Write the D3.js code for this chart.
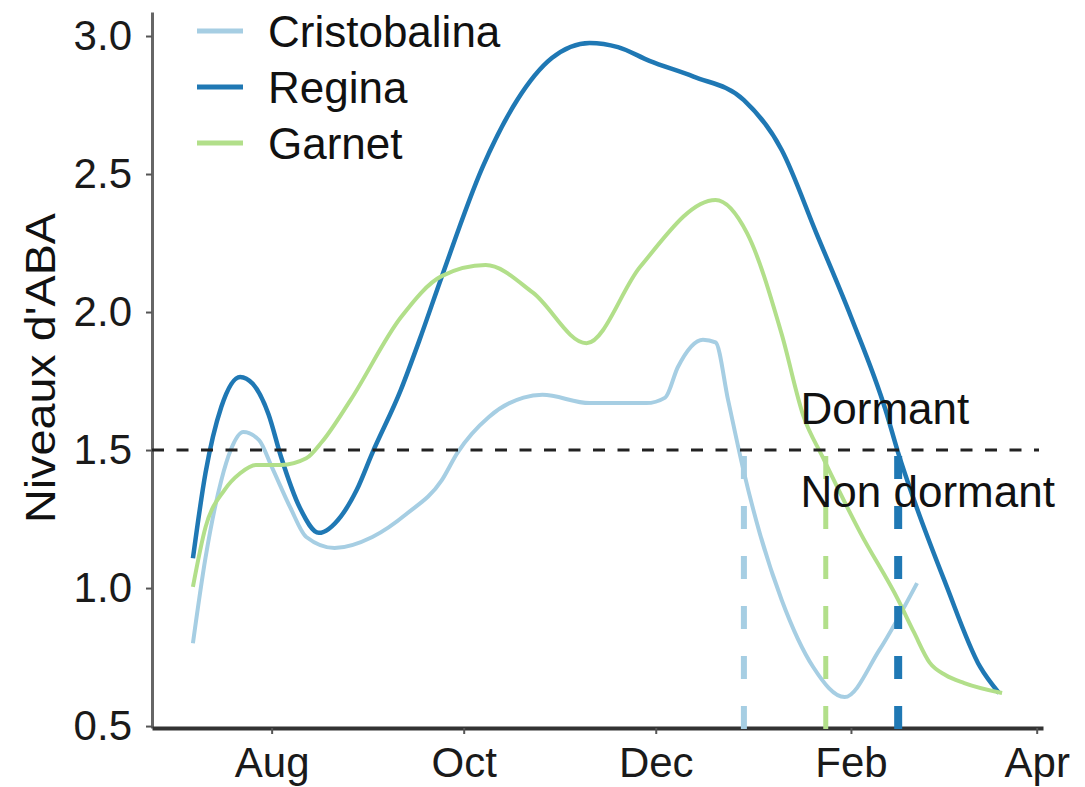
<!DOCTYPE html>
<html>
<head>
<meta charset="utf-8">
<script src="https://cdn.jsdelivr.net/npm/d3@7"></script>
<style>
  body { margin: 0; background: #fff; }
  svg { font-family: "Liberation Sans", Arial, sans-serif; }
  .axis text { font-size: 42px; fill: #1a1a1a; }
  .axis .tick line { stroke: #555; stroke-width: 2; }
  .legend text, .note { font-size: 44px; fill: #111; }
  .title { font-size: 42px; fill: #111; }
</style>
</head>
<body>
<div id="chart"></div>
<script>
/* global d3 */

// DATA
var varieties = ['Cristobalina', 'Regina', 'Garnet'];

var cristobalinaDates = ['2021-07-07', '2021-07-11', '2021-07-16', '2021-07-19', '2021-07-23', '2021-07-28',
  '2021-08-01', '2021-08-07', '2021-08-12', '2021-08-21', '2021-09-02', '2021-09-13', '2021-09-24',
  '2021-09-29', '2021-10-09', '2021-10-20', '2021-10-26', '2021-11-10', '2021-11-28', '2021-12-04',
  '2021-12-08', '2021-12-16', '2021-12-20', '2021-12-24', '2021-12-29', '2022-01-03', '2022-01-10',
  '2022-01-20', '2022-01-30', '2022-02-10', '2022-02-22'];
var cristobalinaValues = [0.80, 1.11, 1.39, 1.50, 1.565, 1.536,
  1.44, 1.29, 1.185, 1.145, 1.185, 1.27, 1.39,
  1.49, 1.62, 1.69, 1.70, 1.67, 1.67, 1.69,
  1.80, 1.90, 1.89, 1.68, 1.42, 1.20, 0.957,
  0.714, 0.605, 0.775, 1.018];

var reginaDates = ['2021-07-07', '2021-07-11', '2021-07-16', '2021-07-22', '2021-07-26', '2021-07-31',
  '2021-08-04', '2021-08-10', '2021-08-16', '2021-08-23', '2021-08-28', '2021-09-02', '2021-09-11',
  '2021-09-17', '2021-09-24', '2021-10-07', '2021-10-18', '2021-10-29', '2021-11-10', '2021-11-19',
  '2021-11-29', '2021-12-13', '2021-12-29', '2022-01-10', '2022-01-21', '2022-02-01', '2022-02-12',
  '2022-02-16', '2022-02-21', '2022-03-03', '2022-03-14', '2022-03-20'];
var reginaValues = [1.108, 1.417, 1.656, 1.765, 1.74, 1.63,
  1.475, 1.29, 1.20, 1.26, 1.355, 1.49, 1.717,
  1.90, 2.127, 2.525, 2.768, 2.92, 2.975, 2.96,
  2.91, 2.853, 2.768, 2.587, 2.286, 1.983, 1.645,
  1.49, 1.32, 1.018, 0.715, 0.62];

var garnetDates = ['2021-07-07', '2021-07-11', '2021-07-17', '2021-07-22', '2021-07-27', '2021-08-04',
  '2021-08-12', '2021-08-17', '2021-08-26', '2021-09-11', '2021-09-24', '2021-10-08',
  '2021-10-23', '2021-11-09', '2021-11-26', '2021-12-20', '2021-12-30', '2022-01-10', '2022-01-17',
  '2022-01-23', '2022-02-04', '2022-02-16', '2022-02-21', '2022-02-26', '2022-03-03', '2022-03-09',
  '2022-03-21'];
var garnetValues = [1.004, 1.22, 1.355, 1.416, 1.446, 1.446,
  1.47, 1.53, 1.68, 1.98, 2.13, 2.17,
  2.07, 1.887, 2.163, 2.406, 2.286, 1.92, 1.62,
  1.475, 1.20, 0.957, 0.84, 0.73, 0.685, 0.656,
  0.62];

// date at which each variety drops below the threshold (same order as varieties)
var releaseDates = ['2021-12-29', '2022-02-16', '2022-01-24'];
var threshold = 1.5;

var yTicks = [0.5, 1.0, 1.5, 2.0, 2.5, 3.0];
var xTicks = ['2021-08-01', '2021-10-01', '2021-12-01', '2022-02-01', '2022-04-01'];
var xLabels = ['Aug', 'Oct', 'Dec', 'Feb', 'Apr'];

var yTitle = "Niveaux d'ABA";
var noteAbove = 'Dormant';
var noteBelow = 'Non dormant';

// STYLE
var colors = ['#a6cee3', '#1f78b4', '#b2df8a'];
var lineWidths = [4, 4.5, 4];
var vlineWidths = [6, 8, 5];

var
  width = 1085,
  height = 787,
  margin = { top: 12, right: 42, bottom: 59, left: 152 },
  innerWidth = width - margin.left - margin.right,
  innerHeight = height - margin.top - margin.bottom,
  parseDate = d3.timeParse('%Y-%m-%d');

var series = [
  { name: varieties[0], dates: cristobalinaDates, values: cristobalinaValues },
  { name: varieties[1], dates: reginaDates, values: reginaValues },
  { name: varieties[2], dates: garnetDates, values: garnetValues }
].map(function (s, i) {
  return {
    name: s.name,
    color: colors[i],
    lw: lineWidths[i],
    vw: vlineWidths[i],
    release: parseDate(releaseDates[i]),
    points: s.dates.map(function (d, j) { return [parseDate(d), s.values[j]]; })
  };
});

// SCALES
var xScale = d3.scaleTime()
  .domain([parseDate('2021-06-24'), parseDate('2022-04-03')])
  .range([0, innerWidth]);

var yScale = d3.scaleLinear()
  .domain([0.493, 3.087])
  .range([innerHeight, 0]);

var svg = d3.select('#chart').append('svg')
  .attr('width', width)
  .attr('height', height);

var g = svg.append('g')
  .attr('transform', translation(margin.left, margin.top));

// AXES
var xAxis = d3.axisBottom(xScale)
  .tickValues(xTicks.map(parseDate))
  .tickFormat(function (d, i) { return xLabels[i]; })
  .tickSize(6)
  .tickSizeOuter(0)
  .tickPadding(13);

var yAxis = d3.axisLeft(yScale)
  .tickValues(yTicks)
  .tickFormat(d3.format('.1f'))
  .tickSize(6)
  .tickSizeOuter(0)
  .tickPadding(14);

var gy = g.append('g')
  .attr('class', 'axis y')
  .call(yAxis);
gy.select('.domain').attr('stroke', '#666').attr('stroke-width', 3);

var gx = g.append('g')
  .attr('class', 'axis x')
  .attr('transform', translation(0, innerHeight))
  .call(xAxis);
gx.select('.domain').attr('stroke', '#333').attr('stroke-width', 4);

// the original title runs a bit longer than its letter height suggests
g.append('text')
  .attr('class', 'title')
  .attr('transform', translation(40 - margin.left, 368 - margin.top) + 'rotate(-90)')
  .attr('text-anchor', 'middle')
  .attr('dy', '0.35em')
  .attr('textLength', 310)
  .attr('lengthAdjust', 'spacingAndGlyphs')
  .text(yTitle);

// CURVES
var line = d3.line()
  .x(function (d) { return xScale(d[0]); })
  .y(function (d) { return yScale(d[1]); })
  .curve(d3.curveMonotoneX);

g.selectAll('.curve')
  .data(series)
  .enter().append('path')
  .attr('class', 'curve')
  .attr('fill', 'none')
  .attr('stroke', function (d) { return d.color; })
  .attr('stroke-width', function (d) { return d.lw; })
  .attr('stroke-linejoin', 'round')
  .attr('d', function (d) { return line(d.points); });

// THRESHOLD
g.append('line')
  .attr('x1', 0)
  .attr('x2', innerWidth - 4)
  .attr('y1', yScale(threshold))
  .attr('y2', yScale(threshold))
  .attr('stroke', '#222')
  .attr('stroke-width', 3)
  .attr('stroke-dasharray', '12,12.5');

// drawn from the bottom up so the dash pattern starts at the axis
g.selectAll('.release')
  .data(series)
  .enter().append('line')
  .attr('class', 'release')
  .attr('x1', function (d) { return xScale(d.release); })
  .attr('x2', function (d) { return xScale(d.release); })
  .attr('y1', innerHeight + 1)
  .attr('y2', yScale(threshold))
  .attr('stroke', function (d) { return d.color; })
  .attr('stroke-width', function (d) { return d.vw; })
  .attr('stroke-dasharray', '23,27');

g.append('text')
  .attr('class', 'note')
  .attr('x', xScale(parseDate('2022-01-16')))
  .attr('y', yScale(1.65))
  .attr('dy', '0.35em')
  .text(noteAbove);

g.append('text')
  .attr('class', 'note')
  .attr('x', xScale(parseDate('2022-01-16')))
  .attr('y', yScale(1.35))
  .attr('dy', '0.35em')
  .text(noteBelow);

// LEGEND
var legend = svg.append('g')
  .attr('class', 'legend')
  .attr('transform', translation(197, 31));

var item = legend.selectAll('.item')
  .data(series)
  .enter().append('g')
  .attr('class', 'item')
  .attr('transform', function (d, i) { return translation(0, i * 56); });

item.append('line')
  .attr('x1', 0)
  .attr('x2', 46)
  .attr('stroke', function (d) { return d.color; })
  .attr('stroke-width', 5);

item.append('text')
  .attr('x', 71)
  .attr('dy', '0.36em')
  .text(function (d) { return d.name; });

function translation(x, y) {
  return 'translate(' + x + ',' + y + ')';
}
</script>
</body>
</html>
